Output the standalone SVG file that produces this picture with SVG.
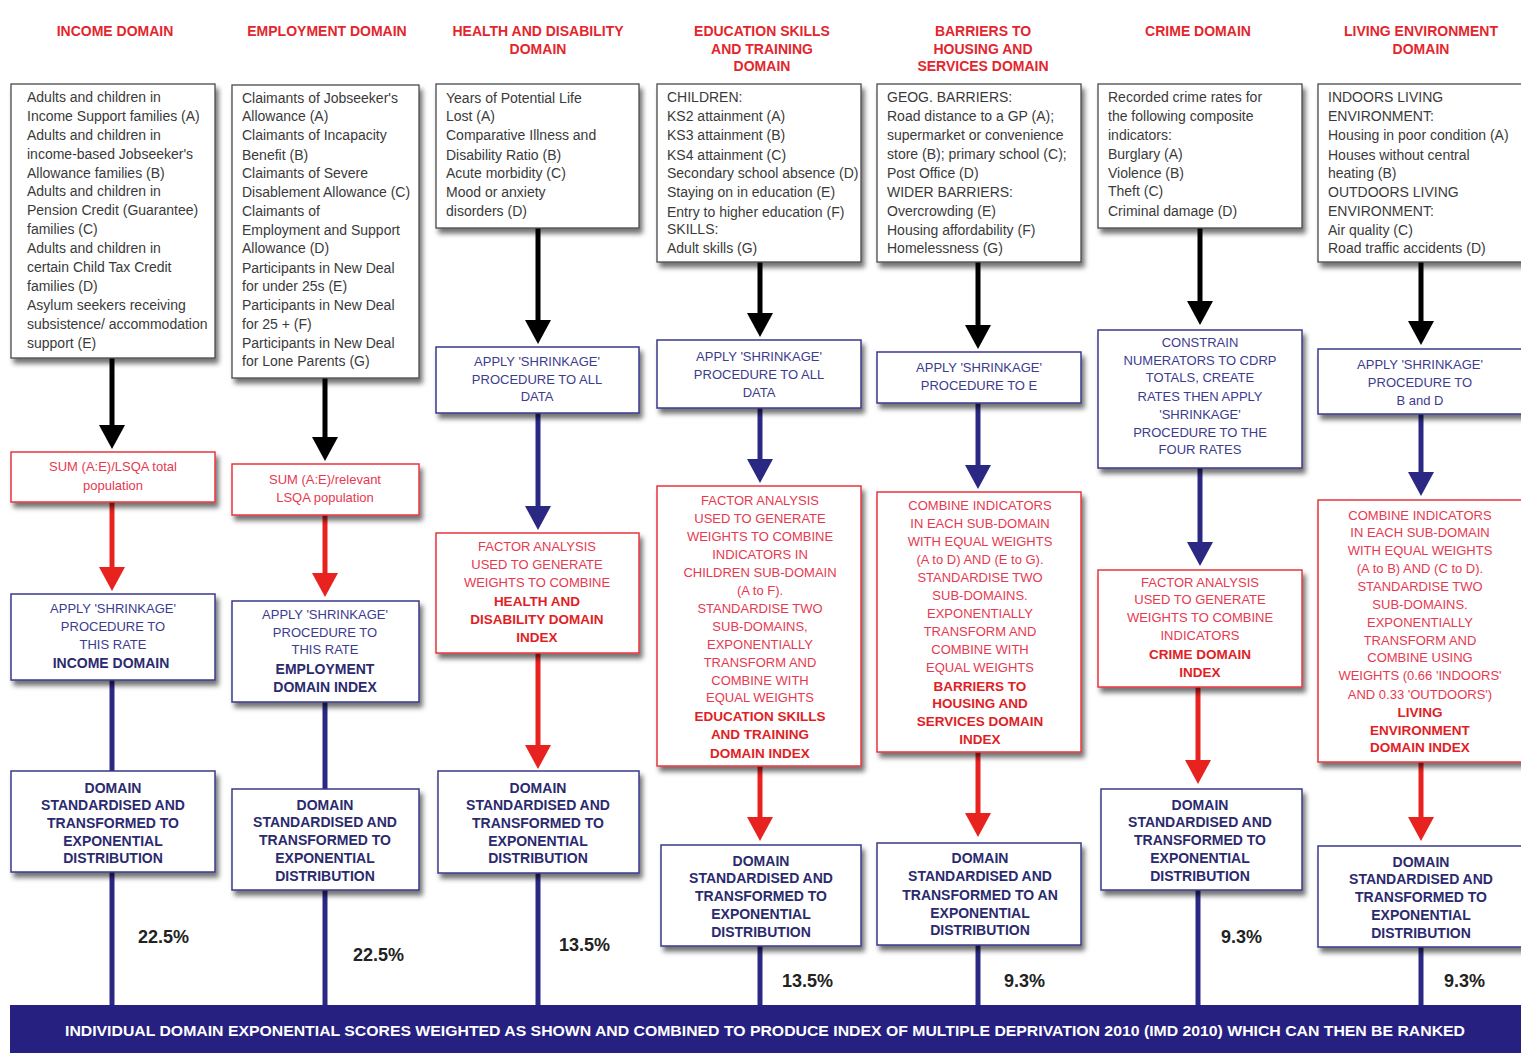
<svg xmlns="http://www.w3.org/2000/svg" width="1521" height="1053" viewBox="0 0 1521 1053">
<defs>
<style>
text{font-family:"Liberation Sans",Arial,sans-serif;text-anchor:middle}
.t{font-weight:bold;font-size:14px;fill:#e3262d}
.in{font-size:14px;fill:#3a3a3a;text-anchor:start}
.pn{font-size:13px;fill:#3d3b8e}
.pnb{font-size:14px;font-weight:bold;fill:#2b2a6e}
.pr{font-size:13px;fill:#e63950}
.prb{font-size:13.5px;font-weight:bold;fill:#e01e25}
.pct{font-size:18px;font-weight:bold;fill:#222;text-anchor:start}
.bi{fill:#fff;stroke:#4a4a4a;stroke-width:1.3}
.bn{fill:#fff;stroke:#3a3a8a;stroke-width:1.5}
.br{fill:#fff;stroke:#e8343c;stroke-width:1.5}
.ck{stroke:#000;stroke-width:5;fill:none}
.cr{stroke:#e8231f;stroke-width:5;fill:none}
.cn{stroke:#2b2884;stroke-width:5;fill:none}
</style>
<filter id="sh" x="-10%" y="-10%" width="130%" height="140%">
<feDropShadow dx="3" dy="5" stdDeviation="2.5" flood-color="#000" flood-opacity="0.55"/>
</filter>
<marker id="ak" viewBox="0 0 24 26" refX="1" refY="13" markerWidth="24" markerHeight="26" markerUnits="userSpaceOnUse" orient="auto"><path d="M0,0 L24,13 L0,26 Z" fill="#000"/></marker>
<marker id="ar" viewBox="0 0 24 26" refX="1" refY="13" markerWidth="24" markerHeight="26" markerUnits="userSpaceOnUse" orient="auto"><path d="M0,0 L24,13 L0,26 Z" fill="#e8231f"/></marker>
<marker id="an" viewBox="0 0 24 26" refX="1" refY="13" markerWidth="24" markerHeight="26" markerUnits="userSpaceOnUse" orient="auto"><path d="M0,0 L24,13 L0,26 Z" fill="#2b2884"/></marker>
</defs>
<rect width="1521" height="1053" fill="#fff"/>

<g id="connectors">
<line class="ck" x1="112" y1="358" x2="112" y2="426" marker-end="url(#ak)"/>
<line class="cr" x1="112" y1="502" x2="112" y2="568" marker-end="url(#ar)"/>
<line class="cn" x1="112" y1="680" x2="112" y2="771"/>
<line class="cn" x1="112" y1="872" x2="112" y2="1006"/>

<line class="ck" x1="325" y1="378" x2="325" y2="438" marker-end="url(#ak)"/>
<line class="cr" x1="325" y1="515" x2="325" y2="574" marker-end="url(#ar)"/>
<line class="cn" x1="325" y1="702" x2="325" y2="789"/>
<line class="cn" x1="325" y1="890" x2="325" y2="1006"/>

<line class="ck" x1="538" y1="228" x2="538" y2="321" marker-end="url(#ak)"/>
<line class="cn" x1="538" y1="413" x2="538" y2="507" marker-end="url(#an)"/>
<line class="cr" x1="538" y1="653" x2="538" y2="746" marker-end="url(#ar)"/>
<line class="cn" x1="538" y1="873" x2="538" y2="1006"/>

<line class="ck" x1="760" y1="262" x2="760" y2="314" marker-end="url(#ak)"/>
<line class="cn" x1="760" y1="408" x2="760" y2="460" marker-end="url(#an)"/>
<line class="cr" x1="760" y1="766" x2="760" y2="818" marker-end="url(#ar)"/>
<line class="cn" x1="760" y1="946" x2="760" y2="1006"/>

<line class="ck" x1="978" y1="262" x2="978" y2="326" marker-end="url(#ak)"/>
<line class="cn" x1="978" y1="403" x2="978" y2="466" marker-end="url(#an)"/>
<line class="cr" x1="978" y1="752" x2="978" y2="814" marker-end="url(#ar)"/>
<line class="cn" x1="978" y1="945" x2="978" y2="1006"/>

<line class="ck" x1="1200" y1="228" x2="1200" y2="302" marker-end="url(#ak)"/>
<line class="cn" x1="1200" y1="468" x2="1200" y2="543" marker-end="url(#an)"/>
<line class="cr" x1="1198" y1="687" x2="1198" y2="761" marker-end="url(#ar)"/>
<line class="cn" x1="1198" y1="890" x2="1198" y2="1006"/>

<line class="ck" x1="1421" y1="262" x2="1421" y2="322" marker-end="url(#ak)"/>
<line class="cn" x1="1421" y1="414" x2="1421" y2="473" marker-end="url(#an)"/>
<line class="cr" x1="1421" y1="762" x2="1421" y2="818" marker-end="url(#ar)"/>
<line class="cn" x1="1421" y1="947" x2="1421" y2="1006"/>
</g>

<g id="titles">
<text class="t" x="115" y="36">INCOME DOMAIN</text>
<text class="t" x="327" y="36">EMPLOYMENT DOMAIN</text>
<text class="t" x="538" y="36">HEALTH AND DISABILITY</text>
<text class="t" x="538" y="54">DOMAIN</text>
<text class="t" x="762" y="36">EDUCATION SKILLS</text>
<text class="t" x="762" y="54">AND TRAINING</text>
<text class="t" x="762" y="71">DOMAIN</text>
<text class="t" x="983" y="36">BARRIERS TO</text>
<text class="t" x="983" y="54">HOUSING AND</text>
<text class="t" x="983" y="71">SERVICES DOMAIN</text>
<text class="t" x="1198" y="36">CRIME DOMAIN</text>
<text class="t" x="1421" y="36">LIVING ENVIRONMENT</text>
<text class="t" x="1421" y="54">DOMAIN</text>
</g>

<!-- Column 1: Income -->
<g id="income-indicators">
<rect class="bi" x="11" y="84" width="204" height="274" filter="url(#sh)"/>
<text class="in"><tspan x="27" y="102">Adults and children in</tspan><tspan x="27" y="121">Income Support families (A)</tspan><tspan x="27" y="140">Adults and children in</tspan><tspan x="27" y="159">income-based Jobseeker's</tspan><tspan x="27" y="178">Allowance families (B)</tspan><tspan x="27" y="196">Adults and children in</tspan><tspan x="27" y="215">Pension Credit (Guarantee)</tspan><tspan x="27" y="234">families (C)</tspan><tspan x="27" y="253">Adults and children in</tspan><tspan x="27" y="272">certain Child Tax Credit</tspan><tspan x="27" y="291">families (D)</tspan><tspan x="27" y="310">Asylum seekers receiving</tspan><tspan x="27" y="329">subsistence/ accommodation</tspan><tspan x="27" y="348">support (E)</tspan></text>
</g>
<g id="income-sum">
<rect class="br" x="11" y="452" width="204" height="50" filter="url(#sh)"/>
<text class="pr"><tspan x="113" y="471">SUM (A:E)/LSQA total</tspan><tspan x="113" y="490">population</tspan></text>
</g>
<g id="income-shrinkage">
<rect class="bn" x="11" y="594" width="204" height="86" filter="url(#sh)"/>
<text class="pn"><tspan x="113" y="613">APPLY 'SHRINKAGE'</tspan><tspan x="113" y="631">PROCEDURE TO</tspan><tspan x="113" y="649">THIS RATE</tspan></text>
<text class="pnb" x="111" y="668">INCOME DOMAIN</text>
</g>
<g id="income-standardised">
<rect class="bn" x="11" y="771" width="204" height="101" filter="url(#sh)"/>
<text class="pnb"><tspan x="113" y="793">DOMAIN</tspan><tspan x="113" y="810">STANDARDISED AND</tspan><tspan x="113" y="828">TRANSFORMED TO</tspan><tspan x="113" y="846">EXPONENTIAL</tspan><tspan x="113" y="863">DISTRIBUTION</tspan></text>
</g>
<text class="pct" x="138" y="943">22.5%</text>

<!-- Column 2: Employment -->
<g id="employment-indicators">
<rect class="bi" x="232" y="85" width="187" height="293" filter="url(#sh)"/>
<text class="in"><tspan x="242" y="103">Claimants of Jobseeker's</tspan><tspan x="242" y="121">Allowance (A)</tspan><tspan x="242" y="140">Claimants of Incapacity</tspan><tspan x="242" y="160">Benefit (B)</tspan><tspan x="242" y="178">Claimants of Severe</tspan><tspan x="242" y="197">Disablement Allowance (C)</tspan><tspan x="242" y="216">Claimants of</tspan><tspan x="242" y="235">Employment and Support</tspan><tspan x="242" y="253">Allowance (D)</tspan><tspan x="242" y="273">Participants in New Deal</tspan><tspan x="242" y="291">for under 25s (E)</tspan><tspan x="242" y="310">Participants in New Deal</tspan><tspan x="242" y="329">for 25 + (F)</tspan><tspan x="242" y="348">Participants in New Deal</tspan><tspan x="242" y="366">for Lone Parents (G)</tspan></text>
</g>
<g id="employment-sum">
<rect class="br" x="232" y="464" width="187" height="51" filter="url(#sh)"/>
<text class="pr"><tspan x="325" y="484">SUM (A:E)/relevant</tspan><tspan x="325" y="502">LSQA population</tspan></text>
</g>
<g id="employment-shrinkage">
<rect class="bn" x="232" y="601" width="187" height="101" filter="url(#sh)"/>
<text class="pn"><tspan x="325" y="619">APPLY 'SHRINKAGE'</tspan><tspan x="325" y="637">PROCEDURE TO</tspan><tspan x="325" y="654">THIS RATE</tspan></text>
<text class="pnb"><tspan x="325" y="674">EMPLOYMENT</tspan><tspan x="325" y="692">DOMAIN INDEX</tspan></text>
</g>
<g id="employment-standardised">
<rect class="bn" x="232" y="789" width="187" height="101" filter="url(#sh)"/>
<text class="pnb"><tspan x="325" y="810">DOMAIN</tspan><tspan x="325" y="827">STANDARDISED AND</tspan><tspan x="325" y="845">TRANSFORMED TO</tspan><tspan x="325" y="863">EXPONENTIAL</tspan><tspan x="325" y="881">DISTRIBUTION</tspan></text>
</g>
<text class="pct" x="353" y="961">22.5%</text>

<!-- Column 3: Health -->
<g id="health-indicators">
<rect class="bi" x="436" y="84" width="203" height="144" filter="url(#sh)"/>
<text class="in"><tspan x="446" y="103">Years of Potential Life</tspan><tspan x="446" y="121">Lost (A)</tspan><tspan x="446" y="140">Comparative Illness and</tspan><tspan x="446" y="160">Disability Ratio (B)</tspan><tspan x="446" y="178">Acute morbidity (C)</tspan><tspan x="446" y="197">Mood or anxiety</tspan><tspan x="446" y="216">disorders (D)</tspan></text>
</g>
<g id="health-shrinkage">
<rect class="bn" x="436" y="347" width="203" height="66" filter="url(#sh)"/>
<text class="pn"><tspan x="537" y="366">APPLY 'SHRINKAGE'</tspan><tspan x="537" y="384">PROCEDURE TO ALL</tspan><tspan x="537" y="401">DATA</tspan></text>
</g>
<g id="health-factor">
<rect class="br" x="436" y="533" width="203" height="120" filter="url(#sh)"/>
<text class="pr"><tspan x="537" y="551">FACTOR ANALYSIS</tspan><tspan x="537" y="569">USED TO GENERATE</tspan><tspan x="537" y="587">WEIGHTS TO COMBINE</tspan></text>
<text class="prb"><tspan x="537" y="606">HEALTH AND</tspan><tspan x="537" y="624">DISABILITY DOMAIN</tspan><tspan x="537" y="642">INDEX</tspan></text>
</g>
<g id="health-standardised">
<rect class="bn" x="438" y="771" width="201" height="102" filter="url(#sh)"/>
<text class="pnb"><tspan x="538" y="793">DOMAIN</tspan><tspan x="538" y="810">STANDARDISED AND</tspan><tspan x="538" y="828">TRANSFORMED TO</tspan><tspan x="538" y="846">EXPONENTIAL</tspan><tspan x="538" y="863">DISTRIBUTION</tspan></text>
</g>
<text class="pct" x="559" y="951">13.5%</text>

<!-- Column 4: Education -->
<g id="education-indicators">
<rect class="bi" x="657" y="84" width="204" height="178" filter="url(#sh)"/>
<text class="in"><tspan x="667" y="102">CHILDREN:</tspan><tspan x="667" y="121">KS2 attainment (A)</tspan><tspan x="667" y="140">KS3 attainment (B)</tspan><tspan x="667" y="160">KS4 attainment (C)</tspan><tspan x="667" y="178">Secondary school absence (D)</tspan><tspan x="667" y="197">Staying on in education (E)</tspan><tspan x="667" y="217">Entry to higher education (F)</tspan><tspan x="667" y="234">SKILLS:</tspan><tspan x="667" y="253">Adult skills (G)</tspan></text>
</g>
<g id="education-shrinkage">
<rect class="bn" x="657" y="340" width="204" height="68" filter="url(#sh)"/>
<text class="pn"><tspan x="759" y="361">APPLY 'SHRINKAGE'</tspan><tspan x="759" y="379">PROCEDURE TO ALL</tspan><tspan x="759" y="397">DATA</tspan></text>
</g>
<g id="education-factor">
<rect class="br" x="657" y="486" width="204" height="280" filter="url(#sh)"/>
<text class="pr"><tspan x="760" y="505">FACTOR ANALYSIS</tspan><tspan x="760" y="523">USED TO GENERATE</tspan><tspan x="760" y="541">WEIGHTS TO COMBINE</tspan><tspan x="760" y="559">INDICATORS IN</tspan><tspan x="760" y="577">CHILDREN SUB-DOMAIN</tspan><tspan x="760" y="595">(A to F).</tspan><tspan x="760" y="613">STANDARDISE TWO</tspan><tspan x="760" y="631">SUB-DOMAINS,</tspan><tspan x="760" y="649">EXPONENTIALLY</tspan><tspan x="760" y="667">TRANSFORM AND</tspan><tspan x="760" y="685">COMBINE WITH</tspan><tspan x="760" y="702">EQUAL WEIGHTS</tspan></text>
<text class="prb"><tspan x="760" y="721">EDUCATION SKILLS</tspan><tspan x="760" y="739">AND TRAINING</tspan><tspan x="760" y="758">DOMAIN INDEX</tspan></text>
</g>
<g id="education-standardised">
<rect class="bn" x="661" y="845" width="200" height="101" filter="url(#sh)"/>
<text class="pnb"><tspan x="761" y="866">DOMAIN</tspan><tspan x="761" y="883">STANDARDISED AND</tspan><tspan x="761" y="901">TRANSFORMED TO</tspan><tspan x="761" y="919">EXPONENTIAL</tspan><tspan x="761" y="937">DISTRIBUTION</tspan></text>
</g>
<text class="pct" x="782" y="987">13.5%</text>

<!-- Column 5: Barriers -->
<g id="barriers-indicators">
<rect class="bi" x="877" y="84" width="204" height="178" filter="url(#sh)"/>
<text class="in"><tspan x="887" y="102">GEOG. BARRIERS:</tspan><tspan x="887" y="121">Road distance to a GP (A);</tspan><tspan x="887" y="140">supermarket or convenience</tspan><tspan x="887" y="159">store (B); primary school (C);</tspan><tspan x="887" y="178">Post Office (D)</tspan><tspan x="887" y="197">WIDER BARRIERS:</tspan><tspan x="887" y="216">Overcrowding (E)</tspan><tspan x="887" y="235">Housing affordability (F)</tspan><tspan x="887" y="253">Homelessness (G)</tspan></text>
</g>
<g id="barriers-shrinkage">
<rect class="bn" x="877" y="352" width="204" height="51" filter="url(#sh)"/>
<text class="pn"><tspan x="979" y="372">APPLY 'SHRINKAGE'</tspan><tspan x="979" y="390">PROCEDURE TO E</tspan></text>
</g>
<g id="barriers-combine">
<rect class="br" x="877" y="492" width="204" height="260" filter="url(#sh)"/>
<text class="pr"><tspan x="980" y="510">COMBINE INDICATORS</tspan><tspan x="980" y="528">IN EACH SUB-DOMAIN</tspan><tspan x="980" y="546">WITH EQUAL WEIGHTS</tspan><tspan x="980" y="564">(A to D) AND (E to G).</tspan><tspan x="980" y="582">STANDARDISE TWO</tspan><tspan x="980" y="600">SUB-DOMAINS.</tspan><tspan x="980" y="618">EXPONENTIALLY</tspan><tspan x="980" y="636">TRANSFORM AND</tspan><tspan x="980" y="654">COMBINE WITH</tspan><tspan x="980" y="672">EQUAL WEIGHTS</tspan></text>
<text class="prb"><tspan x="980" y="691">BARRIERS TO</tspan><tspan x="980" y="708">HOUSING AND</tspan><tspan x="980" y="726">SERVICES DOMAIN</tspan><tspan x="980" y="744">INDEX</tspan></text>
</g>
<g id="barriers-standardised">
<rect class="bn" x="877" y="843" width="204" height="102" filter="url(#sh)"/>
<text class="pnb"><tspan x="980" y="863">DOMAIN</tspan><tspan x="980" y="881">STANDARDISED AND</tspan><tspan x="980" y="900">TRANSFORMED TO AN</tspan><tspan x="980" y="918">EXPONENTIAL</tspan><tspan x="980" y="935">DISTRIBUTION</tspan></text>
</g>
<text class="pct" x="1004" y="987">9.3%</text>

<!-- Column 6: Crime -->
<g id="crime-indicators">
<rect class="bi" x="1098" y="84" width="204" height="144" filter="url(#sh)"/>
<text class="in"><tspan x="1108" y="102">Recorded crime rates for</tspan><tspan x="1108" y="121">the following composite</tspan><tspan x="1108" y="140">indicators:</tspan><tspan x="1108" y="159">Burglary (A)</tspan><tspan x="1108" y="178">Violence (B)</tspan><tspan x="1108" y="196">Theft (C)</tspan><tspan x="1108" y="216">Criminal damage (D)</tspan></text>
</g>
<g id="crime-constrain">
<rect class="bn" x="1098" y="330" width="204" height="138" filter="url(#sh)"/>
<text class="pn"><tspan x="1200" y="347">CONSTRAIN</tspan><tspan x="1200" y="365">NUMERATORS TO CDRP</tspan><tspan x="1200" y="382">TOTALS, CREATE</tspan><tspan x="1200" y="401">RATES THEN APPLY</tspan><tspan x="1200" y="419">'SHRINKAGE'</tspan><tspan x="1200" y="437">PROCEDURE TO THE</tspan><tspan x="1200" y="454">FOUR RATES</tspan></text>
</g>
<g id="crime-factor">
<rect class="br" x="1098" y="570" width="204" height="117" filter="url(#sh)"/>
<text class="pr"><tspan x="1200" y="587">FACTOR ANALYSIS</tspan><tspan x="1200" y="604">USED TO GENERATE</tspan><tspan x="1200" y="622">WEIGHTS TO COMBINE</tspan><tspan x="1200" y="640">INDICATORS</tspan></text>
<text class="prb"><tspan x="1200" y="659">CRIME DOMAIN</tspan><tspan x="1200" y="677">INDEX</tspan></text>
</g>
<g id="crime-standardised">
<rect class="bn" x="1101" y="789" width="201" height="101" filter="url(#sh)"/>
<text class="pnb"><tspan x="1200" y="810">DOMAIN</tspan><tspan x="1200" y="827">STANDARDISED AND</tspan><tspan x="1200" y="845">TRANSFORMED TO</tspan><tspan x="1200" y="863">EXPONENTIAL</tspan><tspan x="1200" y="881">DISTRIBUTION</tspan></text>
</g>
<text class="pct" x="1221" y="943">9.3%</text>

<!-- Column 7: Living environment -->
<g id="living-indicators">
<rect class="bi" x="1318" y="84" width="210" height="178" filter="url(#sh)"/>
<text class="in"><tspan x="1328" y="102">INDOORS LIVING</tspan><tspan x="1328" y="121">ENVIRONMENT:</tspan><tspan x="1328" y="140">Housing in poor condition (A)</tspan><tspan x="1328" y="160">Houses without central</tspan><tspan x="1328" y="178">heating (B)</tspan><tspan x="1328" y="197">OUTDOORS LIVING</tspan><tspan x="1328" y="216">ENVIRONMENT:</tspan><tspan x="1328" y="235">Air quality (C)</tspan><tspan x="1328" y="253">Road traffic accidents (D)</tspan></text>
</g>
<g id="living-shrinkage">
<rect class="bn" x="1318" y="349" width="210" height="65" filter="url(#sh)"/>
<text class="pn"><tspan x="1420" y="369">APPLY 'SHRINKAGE'</tspan><tspan x="1420" y="387">PROCEDURE TO</tspan><tspan x="1420" y="405">B and D</tspan></text>
</g>
<g id="living-combine">
<rect class="br" x="1318" y="500" width="210" height="262" filter="url(#sh)"/>
<text class="pr"><tspan x="1420" y="520">COMBINE INDICATORS</tspan><tspan x="1420" y="537">IN EACH SUB-DOMAIN</tspan><tspan x="1420" y="555">WITH EQUAL WEIGHTS</tspan><tspan x="1420" y="573">(A to B) AND (C to D).</tspan><tspan x="1420" y="591">STANDARDISE TWO</tspan><tspan x="1420" y="609">SUB-DOMAINS.</tspan><tspan x="1420" y="627">EXPONENTIALLY</tspan><tspan x="1420" y="645">TRANSFORM AND</tspan><tspan x="1420" y="662">COMBINE USING</tspan><tspan x="1420" y="680">WEIGHTS (0.66 'INDOORS'</tspan><tspan x="1420" y="699">AND 0.33 'OUTDOORS')</tspan></text>
<text class="prb"><tspan x="1420" y="717">LIVING</tspan><tspan x="1420" y="735">ENVIRONMENT</tspan><tspan x="1420" y="752">DOMAIN INDEX</tspan></text>
</g>
<g id="living-standardised">
<rect class="bn" x="1318" y="846" width="210" height="101" filter="url(#sh)"/>
<text class="pnb"><tspan x="1421" y="867">DOMAIN</tspan><tspan x="1421" y="884">STANDARDISED AND</tspan><tspan x="1421" y="902">TRANSFORMED TO</tspan><tspan x="1421" y="920">EXPONENTIAL</tspan><tspan x="1421" y="938">DISTRIBUTION</tspan></text>
</g>
<text class="pct" x="1444" y="987">9.3%</text>

<g id="imd-band">
<rect x="10" y="1005" width="1511" height="48" fill="#262080"/>
<text x="765" y="1036" textLength="1400" lengthAdjust="spacingAndGlyphs" style="font-size:14px;font-weight:bold;fill:#fff">INDIVIDUAL DOMAIN EXPONENTIAL SCORES WEIGHTED AS SHOWN AND COMBINED TO PRODUCE INDEX OF MULTIPLE DEPRIVATION 2010 (IMD 2010) WHICH CAN THEN BE RANKED</text>
</g>
</svg>
